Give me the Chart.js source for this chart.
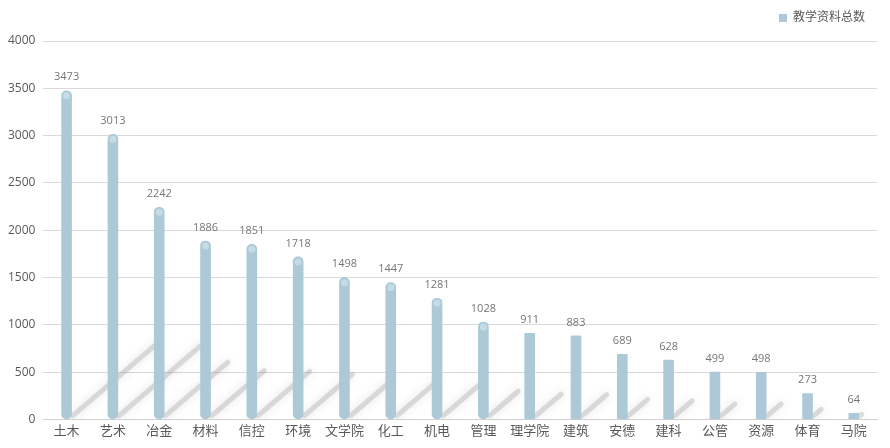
<!DOCTYPE html>
<html>
<head>
<meta charset="utf-8">
<script src="https://cdn.jsdelivr.net/npm/chart.js@4/dist/chart.umd.min.js"></script>
<style>
  html, body { margin: 0; padding: 0; background: #fff; }
  #wrap { width: 890px; height: 448px; }
</style>
</head>
<body>
<div id="wrap"><canvas id="chart"></canvas></div>
<script>
// --- data ---
const categories = ['土木', '艺术', '冶金', '材料', '信控', '环境', '文学院', '化工', '机电', '管理', '理学院', '建筑', '安德', '建科', '公管', '资源', '体育', '马院'];
const totals = [3473, 3013, 2242, 1886, 1851, 1718, 1498, 1447, 1281, 1028, 911, 883, 689, 628, 499, 498, 273, 64];
const yTicks = [0, 500, 1000, 1500, 2000, 2500, 3000, 3500, 4000];
const seriesName = '教学资料总数';

const barColor = '#adc9d7';
const font = '"Open Sans", "Noto Sans CJK SC", sans-serif';

// extra room under the legend
const legendGap = {
    id: 'legendGap',
    beforeInit(chart) {
        const fit = chart.legend.fit;
        chart.legend.fit = function () {
            fit.bind(chart.legend)();
            this.height += 7;
        };
    }
};

// soft shadows behind bars + light top caps + value labels
const decorPlugin = {
    id: 'decor',
    beforeDatasetsDraw(chart) {
        const ctx = chart.ctx;
        const meta = chart.getDatasetMeta(0);
        const area = chart.chartArea;
        ctx.save();
        ctx.beginPath();
        ctx.rect(area.left, area.top, area.right - area.left, area.bottom - area.top);
        ctx.clip();
        meta.data.forEach((bar, i) => {
            const len = Math.min(totals[i], 3000);
            const x0 = bar.x + 6, y0 = bar.base - 3;
            const x1 = x0 + len * 0.028, y1 = y0 - len * 0.024;
            ctx.strokeStyle = 'rgba(150,150,150,0.3)';
            ctx.lineWidth = 5;
            ctx.lineCap = 'round';
            ctx.shadowColor = 'rgba(100,100,100,0.55)';
            ctx.shadowBlur = 8;
            ctx.beginPath();
            ctx.moveTo(x0, y0);
            ctx.lineTo(x1, y1);
            ctx.stroke();
        });
        ctx.restore();
    },
    afterDatasetsDraw(chart) {
        const ctx = chart.ctx;
        const meta = chart.getDatasetMeta(0);
        ctx.save();
        meta.data.forEach((bar, i) => {
            if (totals[i] > 1000) {
                ctx.fillStyle = 'rgba(205,225,233,0.75)';
                ctx.beginPath();
                ctx.ellipse(bar.x, bar.y + 5, 3.5, 3.5, 0, 0, Math.PI * 2);
                ctx.fill();
            }
            ctx.fillStyle = '#767676';
            ctx.font = '11px ' + font;
            ctx.textAlign = 'center';
            ctx.textBaseline = 'bottom';
            ctx.fillText(totals[i], bar.x, bar.y - 8);
        });
        ctx.restore();
    }
};

new Chart(document.getElementById('chart').getContext('2d'), {
    type: 'bar',
    data: {
        labels: categories,
        datasets: [{
            label: seriesName,
            data: totals,
            backgroundColor: barColor,
            borderWidth: 0,
            borderRadius: (c) => (totals[c.dataIndex] > 1000 ? 5 : 1),
            borderSkipped: false,
            barThickness: 10
        }]
    },
    options: {
        responsive: true,
        maintainAspectRatio: false,
        animation: false,
        layout: { padding: { left: 0, right: 13, top: 0, bottom: 5 } },
        plugins: {
            legend: {
                position: 'top',
                align: 'end',
                labels: {
                    boxWidth: 8, boxHeight: 8, padding: 12,
                    color: '#595959',
                    font: { family: font, size: 12 }
                }
            },
            tooltip: { enabled: false }
        },
        scales: {
            x: {
                grid: { display: false, drawTicks: false },
                border: { color: '#d0d0d0' },
                ticks: { color: '#595959', font: { family: font, size: 13 }, padding: 4 }
            },
            y: {
                min: 0, max: 4000,
                afterBuildTicks: (axis) => { axis.ticks = yTicks.map(v => ({ value: v })); },
                grid: { color: '#d9d9d9', drawTicks: false },
                border: { display: false },
                ticks: { color: '#595959', font: { family: font, size: 12 }, padding: 8, callback: (v) => String(v) }
            }
        }
    },
    plugins: [legendGap, decorPlugin]
});
</script>
</body>
</html>
